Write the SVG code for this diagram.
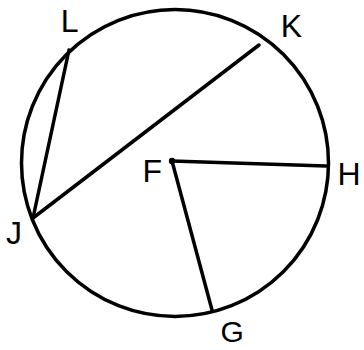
<svg xmlns="http://www.w3.org/2000/svg" width="364" height="350" viewBox="0 0 364 350">
<style>
.ln{stroke:#000;stroke-width:3.5;stroke-linecap:round;fill:none}
.lb{font-family:"Liberation Sans",Arial,sans-serif;font-size:32px;fill:#000}
</style>
<rect width="364" height="350" fill="#fff"/>
<g id="circle"><circle cx="175" cy="163" r="153.5" class="ln"/></g>
<g id="connectors">
<line x1="69" y1="50" x2="33" y2="218" class="ln"/>
<line x1="33" y1="218" x2="259" y2="45" class="ln"/>
<line x1="172" y1="161" x2="326" y2="166" class="ln"/>
<line x1="172" y1="161" x2="212" y2="310" class="ln"/>
</g>
<g id="F"><circle cx="172" cy="161" r="3.2" fill="#000"/><text class="lb" x="142.4" y="182">F</text></g>
<g id="L"><text class="lb" x="60.7" y="32">L</text></g>
<g id="K"><text class="lb" x="280.7" y="37">K</text></g>
<g id="J"><text class="lb" x="6" y="244">J</text></g>
<g id="H"><text class="lb" x="337.5" y="185">H</text></g>
<g id="G"><text class="lb" x="220.5" y="342" style="font-size:30px">G</text></g>
</svg>
